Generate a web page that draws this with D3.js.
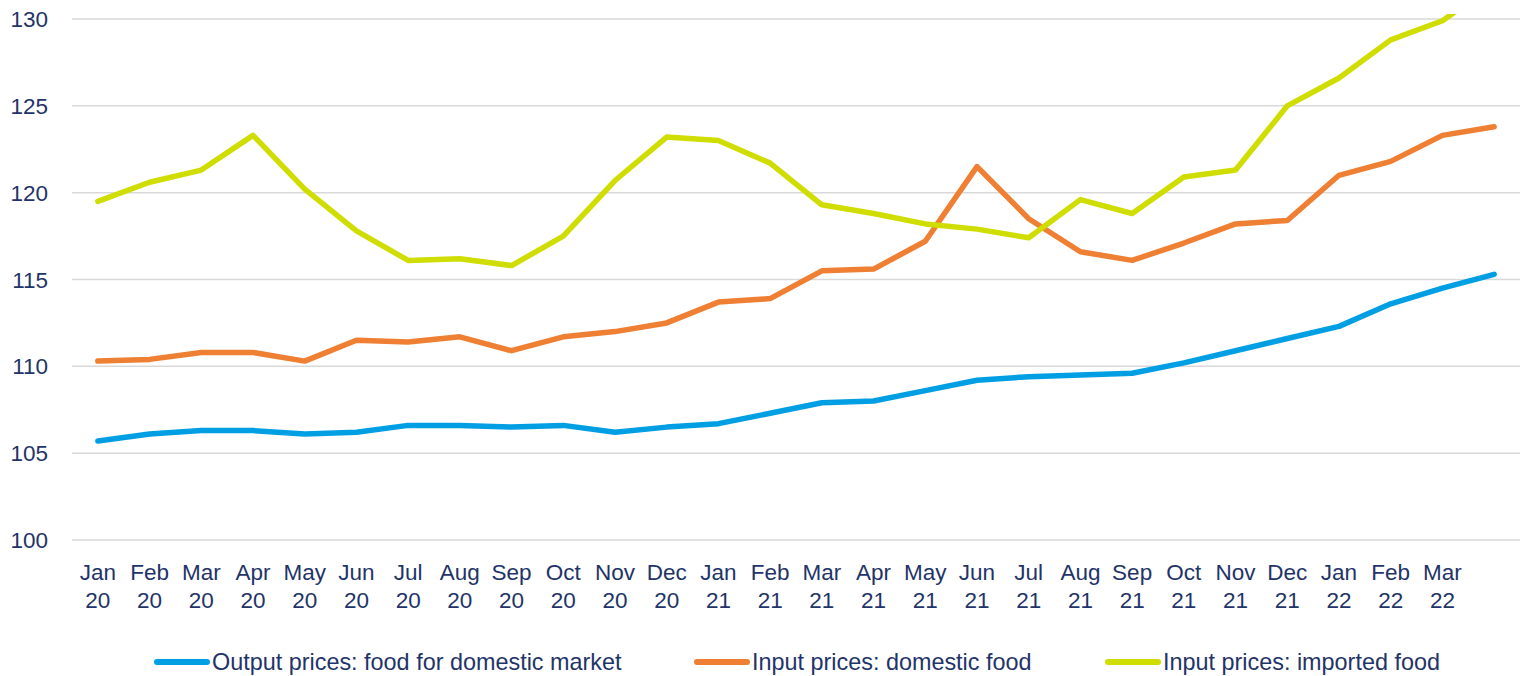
<!DOCTYPE html>
<html>
<head>
<meta charset="utf-8">
<script src="https://cdn.jsdelivr.net/npm/d3@7"></script>
<style>
  html, body { margin: 0; padding: 0; background: #fff; }
  svg { display: block; font-family: "Liberation Sans", Arial, sans-serif; }
</style>
</head>
<body>
<svg id="chart" width="1530" height="676"></svg>
<script>
// Month labels (two lines each); the last data point has no label in the source
const months = ['Jan', 'Feb', 'Mar', 'Apr', 'May', 'Jun', 'Jul', 'Aug', 'Sep', 'Oct', 'Nov', 'Dec',
                'Jan', 'Feb', 'Mar', 'Apr', 'May', 'Jun', 'Jul', 'Aug', 'Sep', 'Oct', 'Nov', 'Dec',
                'Jan', 'Feb', 'Mar', ''];
const years  = ['20', '20', '20', '20', '20', '20', '20', '20', '20', '20', '20', '20',
                '21', '21', '21', '21', '21', '21', '21', '21', '21', '21', '21', '21',
                '22', '22', '22', ''];

const outputDomestic = [105.7, 106.1, 106.3, 106.3, 106.1, 106.2, 106.6, 106.6, 106.5, 106.6, 106.2, 106.5,
                        106.7, 107.3, 107.9, 108.0, 108.6, 109.2, 109.4, 109.5, 109.6, 110.2, 110.9, 111.6,
                        112.3, 113.6, 114.5, 115.3];
const inputDomestic  = [110.3, 110.4, 110.8, 110.8, 110.3, 111.5, 111.4, 111.7, 110.9, 111.7, 112.0, 112.5,
                        113.7, 113.9, 115.5, 115.6, 117.2, 121.5, 118.5, 116.6, 116.1, 117.1, 118.2, 118.4,
                        121.0, 121.8, 123.3, 123.8];
const inputImported  = [119.5, 120.6, 121.3, 123.3, 120.2, 117.8, 116.1, 116.2, 115.8, 117.5, 120.7, 123.2,
                        123.0, 121.7, 119.3, 118.8, 118.2, 117.9, 117.4, 119.6, 118.8, 120.9, 121.3, 125.0,
                        126.6, 128.8, 129.9, 132.0];

const yTicks = [100, 105, 110, 115, 120, 125, 130];

const series = [
  { name: 'Output prices: food for domestic market', values: outputDomestic, color: '#009FE3' },
  { name: 'Input prices: domestic food',             values: inputDomestic,  color: '#EE7F33' },
  { name: 'Input prices: imported food',             values: inputImported,  color: '#D0DD00' },
];

const TEXT = '#1f3468';
const svg = d3.select('#chart');

const x = d3.scaleBand().domain(d3.range(months.length)).range([72, 1520]).padding(0);
const xc = i => x(i) + x.bandwidth() / 2;
const y = d3.scaleLinear().domain([100, 130]).range([540, 19]);

// gridlines
svg.append('g')
  .selectAll('line').data(yTicks).join('line')
  .attr('x1', 72).attr('x2', 1520)
  .attr('y1', d => y(d)).attr('y2', d => y(d))
  .attr('stroke', '#d9d9d9').attr('stroke-width', 1.5);

// y axis labels
svg.append('g')
  .selectAll('text').data(yTicks).join('text')
  .attr('x', 48).attr('y', d => y(d) + 8)
  .attr('text-anchor', 'end')
  .attr('font-size', 22.5).attr('fill', TEXT)
  .text(d => d);

// x axis labels
const xl = svg.append('g').selectAll('text').data(d3.range(months.length)).join('text')
  .attr('text-anchor', 'middle')
  .attr('font-size', 22.5).attr('fill', TEXT);
xl.append('tspan').attr('x', xc).attr('y', 580).text(i => months[i]);
xl.append('tspan').attr('x', xc).attr('y', 608).text(i => years[i]);

// clip for values above the top of the axis
svg.append('clipPath').attr('id', 'plot-clip')
  .append('rect').attr('x', 0).attr('y', y(130) - 5).attr('width', 1530).attr('height', 560);

const line = d3.line().x((d, i) => xc(i)).y(d => y(d));

svg.append('g').attr('clip-path', 'url(#plot-clip)')
  .selectAll('path').data(series).join('path')
  .attr('d', d => line(d.values))
  .attr('fill', 'none')
  .attr('stroke', d => d.color)
  .attr('stroke-width', 5.5)
  .attr('stroke-linejoin', 'round')
  .attr('stroke-linecap', 'round');

// legend
const legX = [155, 695, 1106];
const leg = svg.append('g').selectAll('g').data(series).join('g')
  .attr('transform', (d, i) => `translate(${legX[i]},662)`);
leg.append('line')
  .attr('x1', 2).attr('x2', 52).attr('y1', 0).attr('y2', 0)
  .attr('stroke', d => d.color).attr('stroke-width', 6).attr('stroke-linecap', 'round');
leg.append('text')
  .attr('x', 57).attr('y', 8)
  .attr('font-size', 23.4).attr('fill', TEXT)
  .text(d => d.name);
</script>
</body>
</html>
